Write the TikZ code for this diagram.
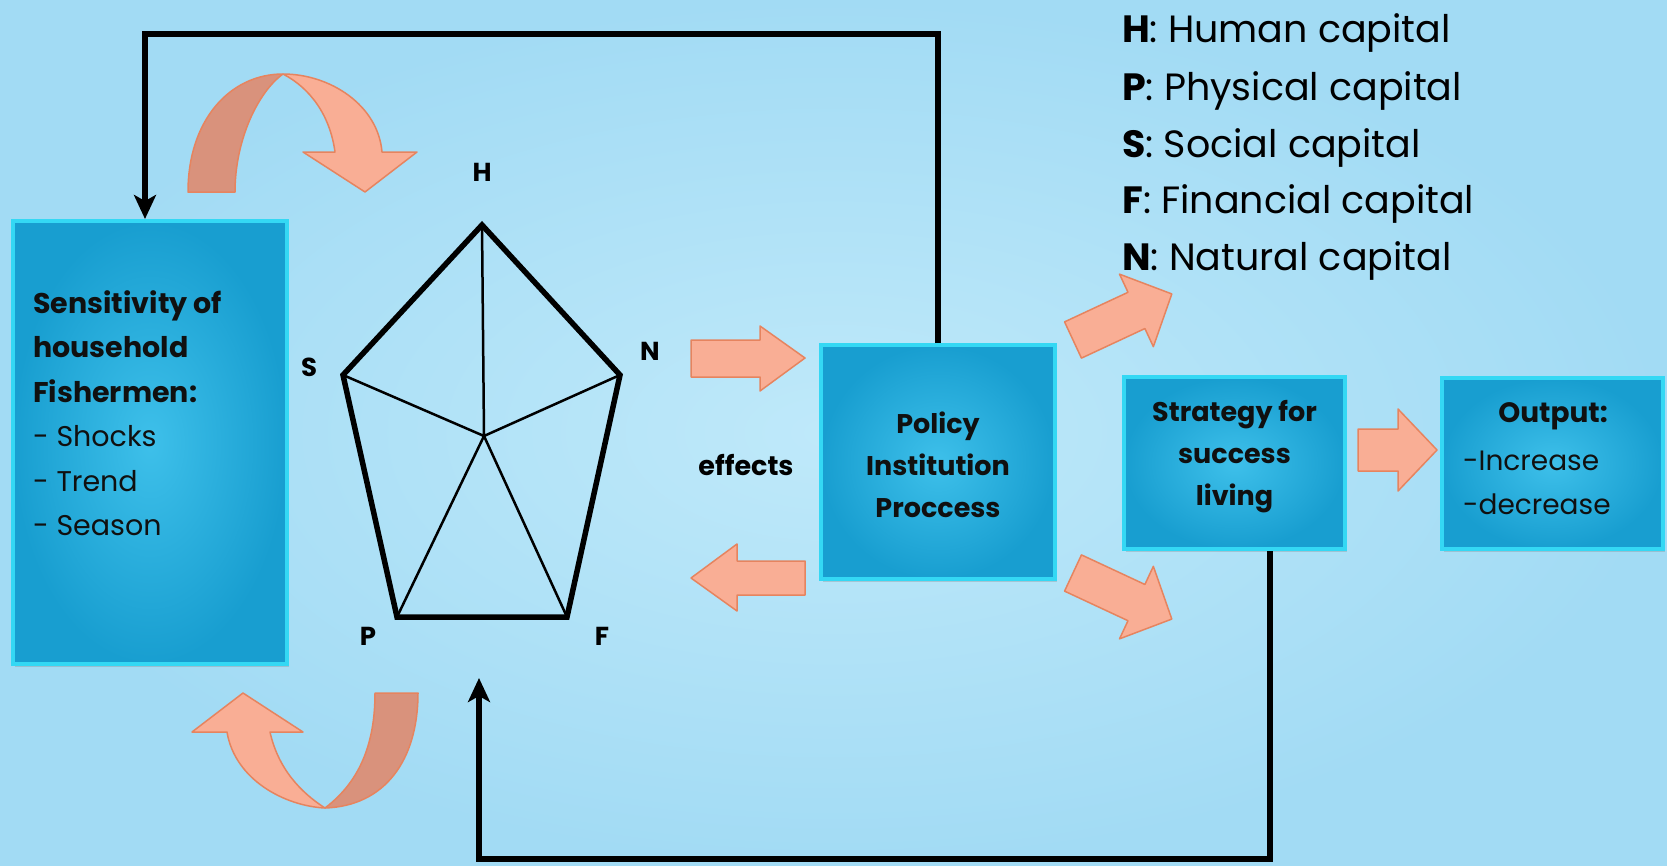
\documentclass[tikz,border=0pt]{standalone}
\usepackage{fontspec}
\setmainfont{Poppins}
\usetikzlibrary{shadows,arrows.meta}
\definecolor{bgin}{HTML}{BFE9FA}
\definecolor{bgout}{HTML}{A2DBF4}
\definecolor{boxin}{HTML}{3EC0EA}
\definecolor{boxout}{HTML}{189ED0}
\definecolor{boxedge}{HTML}{34D8F4}
\definecolor{salmon}{HTML}{F9AE95}
\definecolor{salmonedge}{HTML}{E6845F}
\definecolor{salmondark}{HTML}{D9927C}
\definecolor{ink}{HTML}{101010}
\begin{document}
\begin{tikzpicture}[x=1pt,y=-1pt,
  panel/.style={draw=boxedge,line width=4pt,inner color=boxin,outer color=boxout,
    drop shadow={shadow xshift=2pt,shadow yshift=-3pt,opacity=0.3}},
  boxtext/.style={text=ink,font=\bfseries\fontsize{27}{42}\selectfont,align=center},
  conn/.style={line width=6pt,draw=black},
  tipA/.style={-{Stealth[length=24pt,width=22pt,inset=6pt]}},
  blockarrow/.style={fill=salmon,draw=salmonedge,line width=1.5pt,line join=round},
  darkband/.style={fill=salmondark,draw=salmonedge,line width=1.5pt,line join=round},
  vlabel/.style={font=\bfseries\fontsize{26}{30}\selectfont,text=black},
  legend/.style={font=\fontsize{38}{44}\selectfont,anchor=base west,text=black,inner sep=0pt}
]
\useasboundingbox (0,0) rectangle (1667,865);
\shade[inner color=bgin,outer color=bgout] (0,0) rectangle (1667,865);

% boxes
\node[panel,minimum width=274pt,minimum height=443pt] (sens) at (150,442.5) {};
\node[text=ink,align=left,anchor=north west,inner sep=0pt,font=\fontsize{28.5}{44.5}\selectfont] (senstext) at (33,290)
 {\textbf{Sensitivity of}\\\textbf{household}\\\textbf{Fishermen:}\\- Shocks\\- Trend\\- Season};
\node[panel,minimum width=234pt,minimum height=234pt] (policy) at (938,462) {};
\node[boxtext] (policytext) at (938,465) {Policy\\Institution\\Proccess};
\node[panel,minimum width=221pt,minimum height=172pt] (strategy) at (1234.5,463) {};
\node[boxtext] (strategytext) at (1234.5,457) {Strategy for\\success\\living};
\node[panel,minimum width=221pt,minimum height=171pt] (output) at (1552.5,463.5) {};
\node[text=ink,font=\bfseries\fontsize{28}{44}\selectfont] (outputtitle) at (1553,416) {Output:};
\node[text=ink,font=\fontsize{28}{44}\selectfont,align=left,anchor=west,inner sep=0pt] (outputtext) at (1463,483)
 {-Increase\\-decrease};

% pentagon
\coordinate (H) at (482,225);
\coordinate (S) at (343,375);
\coordinate (N) at (620,375);
\coordinate (P) at (397,617);
\coordinate (F) at (567,617);
\coordinate (C) at (484,436);
\draw[line width=2.5pt] (C) -- (H) (C) -- (S) (C) -- (N) (C) -- (P) (C) -- (F);
\draw[line width=5.5pt,line join=miter] (H) -- (N) -- (F) -- (P) -- (S) -- cycle;
\node[vlabel] (lH) at (482,172) {H};
\node[vlabel] (lS) at (309,367) {S};
\node[vlabel] (lN) at (650,351) {N};
\node[vlabel] (lP) at (368,636) {P};
\node[vlabel] (lF) at (602,636) {F};
\node[vlabel,font=\bfseries\fontsize{27}{30}\selectfont] (effects) at (746,465) {effects};

% legend
\node[legend] (lg1) at (1122,42) {\textbf{H}: Human capital};
\node[legend] (lg2) at (1122,100) {\textbf{P}: Physical capital};
\node[legend] (lg3) at (1122,157) {\textbf{S}: Social capital};
\node[legend] (lg4) at (1122,213) {\textbf{F}: Financial capital};
\node[legend] (lg5) at (1122,270) {\textbf{N}: Natural capital};

% connectors
\coordinate (topy) at (0,34);
\coordinate (sensin) at (145,0);
\draw[conn,tipA] (policy.north) -- (policy.north |- topy) -- (sensin |- topy) -- (sensin |- sens.north);
\coordinate (bx) at (1270,0);
\coordinate (boty) at (0,859);
\coordinate (pin) at (479,678);
\draw[conn,tipA] (strategy.south -| bx) -- (bx |- boty) -- (pin |- boty) -- (pin);

% block arrows
\draw[blockarrow] (691,340) -- (760,340) -- (760,326) -- (805,358) -- (760,391) -- (760,377) -- (691,377) -- cycle;
\draw[blockarrow] (805,561) -- (737,561) -- (737,544) -- (691,578) -- (737,611) -- (737,595) -- (805,595) -- cycle;
\begin{scope}[shift={(1073,340)},rotate=25]
\draw[blockarrow] (0,-20) -- (70,-20) -- (70,-40) -- (109,0) -- (70,40) -- (70,20) -- (0,20) -- cycle;
\end{scope}
\begin{scope}[shift={(1073,573)},rotate=-25]
\draw[blockarrow] (0,-20) -- (70,-20) -- (70,-40) -- (109,0) -- (70,40) -- (70,20) -- (0,20) -- cycle;
\end{scope}
\draw[blockarrow] (1358,429) -- (1398,429) -- (1398,409) -- (1437,450) -- (1398,491) -- (1398,471) -- (1358,471) -- cycle;

% curved arrow top
\draw[darkband] (188,192) .. controls (188,120) and (230,74) .. (283,74)
  .. controls (258,92) and (235,140) .. (235,192) -- cycle;
\draw[blockarrow] (283,74) .. controls (330,74) and (378,105) .. (382,152)
  -- (417,152) -- (365,192) -- (303,152) -- (335,152)
  .. controls (330,115) and (310,88) .. (283,74) -- cycle;

% curved arrow bottom
\draw[darkband] (418,693) .. controls (418,760) and (385,806) .. (325,808)
  .. controls (362,780) and (375,740) .. (375,693) -- cycle;
\draw[blockarrow] (325,808) .. controls (285,806) and (235,780) .. (227,732)
  -- (192,732) -- (243,693) -- (303,732) -- (270,732)
  .. controls (278,768) and (300,792) .. (325,808) -- cycle;
\end{tikzpicture}
\end{document}
